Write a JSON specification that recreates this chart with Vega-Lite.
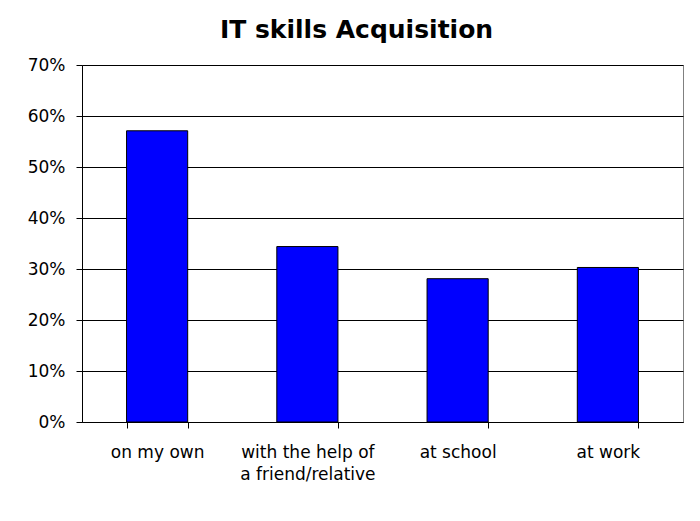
{
  "$schema": "https://vega.github.io/schema/vega-lite/v6.json",
  "width": 601,
  "height": 357,
  "autosize": "none",
  "padding": {"left": 82, "top": 65, "right": 17, "bottom": 99},
  "background": "white",
  "title": {
    "text": "IT skills Acquisition",
    "font": "DejaVu Sans",
    "fontSize": 25,
    "fontWeight": "bold",
    "color": "#000000",
    "anchor": "middle",
    "dx": -26,
    "offset": 13
  },
  "data": {
    "values": [
      {"source": "on my own", "share": 0.571},
      {"source": "with the help of|a friend/relative", "share": 0.344},
      {"source": "at school", "share": 0.281},
      {"source": "at work", "share": 0.303}
    ]
  },
  "mark": {"type": "bar", "fill": "#0000FF", "stroke": "#000000", "strokeWidth": 1},
  "encoding": {
    "x": {
      "field": "source",
      "type": "nominal",
      "sort": null,
      "scale": {"paddingInner": 0.593, "paddingOuter": 0.2965},
      "axis": {
        "title": null,
        "labelAngle": 0,
        "labelExpr": "split(datum.label, '|')",
        "labelFont": "DejaVu Sans",
        "labelFontSize": 17,
        "labelColor": "#000000",
        "labelLineHeight": 22,
        "labelPadding": 16,
        "tickBand": "extent",
        "tickColor": "#000000",
        "tickSize": 6,
        "domainColor": "#000000",
        "grid": false
      }
    },
    "y": {
      "field": "share",
      "type": "quantitative",
      "scale": {"domain": [0, 0.7], "nice": false},
      "axis": {
        "title": null,
        "format": ".0%",
        "values": [0, 0.1, 0.2, 0.3, 0.4, 0.5, 0.6, 0.7],
        "labelFont": "DejaVu Sans",
        "labelFontSize": 17,
        "labelColor": "#000000",
        "labelPadding": 11,
        "tickColor": "#000000",
        "tickSize": 6,
        "domainColor": "#000000",
        "gridColor": "#000000",
        "gridOpacity": 1
      }
    }
  },
  "config": {
    "view": {"stroke": "#808080", "strokeWidth": 1}
  }
}
